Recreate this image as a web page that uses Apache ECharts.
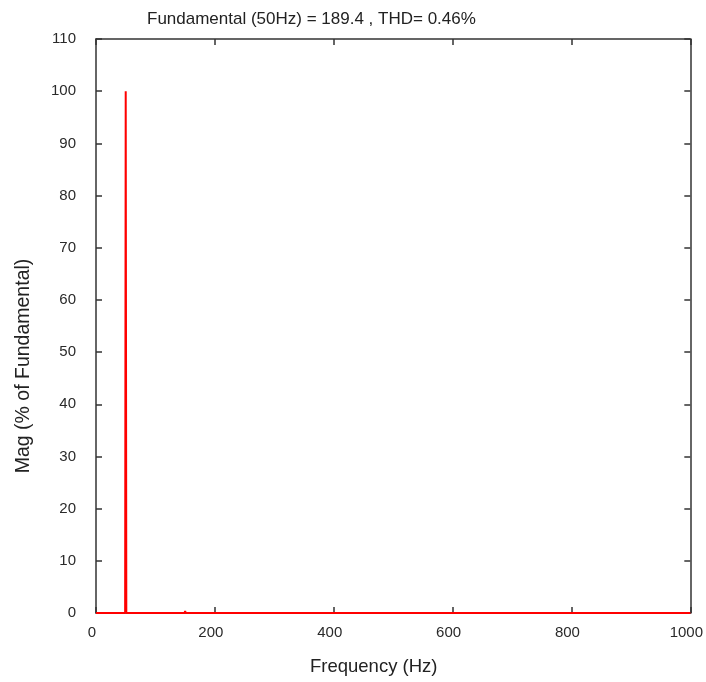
<!DOCTYPE html>
<html><head><meta charset="utf-8">
<script src="https://cdn.jsdelivr.net/npm/echarts@6/dist/echarts.min.js"></script>
<style>html,body{margin:0;padding:0;background:#fff;}#c{width:706px;height:682px;}</style>
</head><body><div id="c"></div>
<script>
// Spectrum data (frequency in Hz, magnitude in % of fundamental)
const freqHz = [0, 49, 50, 51, 149, 150, 151, 1000];
const magPct = [0, 0, 100, 0, 0, 0.4, 0, 0];
const xTicks = [0, 200, 400, 600, 800, 1000];
const yTicks = [0, 10, 20, 30, 40, 50, 60, 70, 80, 90, 100, 110];
const titleText = 'Fundamental (50Hz) = 189.4 , THD= 0.46%';
const xName = 'Frequency (Hz)';
const yName = 'Mag (% of Fundamental)';

const font = 'Liberation Sans, Arial, sans-serif';
const axisColor = '#333';
const chart = echarts.init(document.getElementById('c'));
const common = {
  axisLine: {show: true, onZero: false, lineStyle: {color: axisColor, width: 1.5}},
  axisTick: {show: true, inside: true, length: 6, lineStyle: {color: axisColor, width: 1.5}},
  splitLine: {show: false}
};
chart.setOption({
  animation: false,
  backgroundColor: '#fff',
  title: {text: titleText, left: 142, top: 6,
    textStyle: {fontFamily: font, fontSize: 17, fontWeight: 'normal', color: '#222'}},
  grid: {left: 96, right: 15, top: 39, bottom: 69},
  xAxis: [
    Object.assign({type: 'value', position: 'bottom', min: xTicks[0], max: xTicks[xTicks.length-1], interval: 200,
      axisLabel: {fontFamily: font, fontSize: 15, color: '#2a2a2a', margin: 12, padding: [0, 8, 0, 0],
        formatter: v => String(v)}}, common),
    Object.assign({type: 'value', position: 'top', min: xTicks[0], max: xTicks[xTicks.length-1], interval: 200,
      axisLabel: {show: false}}, common)
  ],
  yAxis: [
    Object.assign({type: 'value', position: 'left', min: yTicks[0], max: yTicks[yTicks.length-1], interval: 10,
      axisLabel: {fontFamily: font, fontSize: 15, color: '#2a2a2a', margin: 20, padding: [0, 0, 8, 0],
        formatter: v => String(v)}}, common),
    Object.assign({type: 'value', position: 'right', min: yTicks[0], max: yTicks[yTicks.length-1], interval: 10,
      axisLabel: {show: false}}, common)
  ],
  graphic: [
    {type: 'text', left: 310, top: 657, style: {text: xName, font: '18.5px ' + font, fill: '#222'}},
    {type: 'text', rotation: Math.PI/2, position: [24, 366],
      style: {text: yName, font: '19.5px ' + font, fill: '#222', align: 'center', verticalAlign: 'middle'}}
  ],
  series: [{
    type: 'line',
    data: freqHz.map((f, i) => [f, magPct[i]]),
    showSymbol: false,
    lineStyle: {color: '#ff0000', width: 2},
    itemStyle: {color: '#ff0000'},
    z: 5
  }]
});
</script></body></html>
